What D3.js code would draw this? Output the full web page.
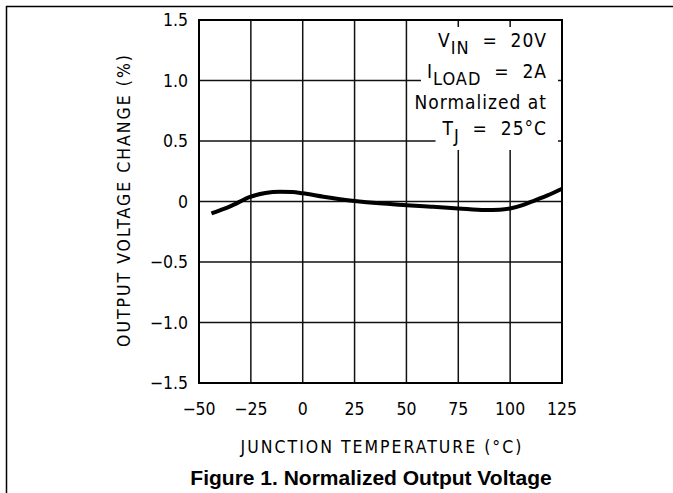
<!DOCTYPE html>
<html><head><meta charset="utf-8">
<script src="https://cdn.jsdelivr.net/npm/d3@7"></script>
<style>
body{margin:0;background:#fff;}
svg{display:block;}
.lbl{font-family:"Liberation Sans Narrow","DejaVu Sans Condensed","Liberation Sans",sans-serif;fill:#000;}
</style></head>
<body>
<script>
const temps = [-44, -35, -25, -18, -11, -5, 0, 10, 25, 37, 50, 62, 75, 88, 95, 100, 106, 112, 118, 125];
const vchange = [-0.098, -0.04, 0.04, 0.07, 0.08, 0.078, 0.068, 0.04, 0.005, -0.015, -0.03, -0.043, -0.057, -0.07, -0.068, -0.058, -0.03, 0.01, 0.05, 0.105];
const xTicks = [-50, -25, 0, 25, 50, 75, 100, 125];
const yTicks = [-1.5, -1.0, -0.5, 0, 0.5, 1.0, 1.5];
const yTickLabels = ["\u22121.5", "\u22121.0", "\u22120.5", "0", "0.5", "1.0", "1.5"];
const xTitle = "JUNCTION TEMPERATURE (\u00B0C)";
const yTitle = "OUTPUT VOLTAGE CHANGE (%)";
const figTitle = "Figure 1. Normalized Output Voltage";

const W = 673, H = 493;
const svg = d3.select("body").append("svg").attr("width", W).attr("height", H);
const L = 199, R = 562, T = 20, B = 383;
const x = d3.scaleLinear().domain([-50, 125]).range([L, R]);
const y = d3.scaleLinear().domain([-1.5, 1.5]).range([B, T]);

// outer frame lines
svg.append("line").attr("x1", 6).attr("x2", W).attr("y1", 6.5).attr("y2", 6.5).attr("stroke", "#000").attr("stroke-width", 1.5);
svg.append("line").attr("x1", 6.5).attr("x2", 6.5).attr("y1", 6).attr("y2", H).attr("stroke", "#000").attr("stroke-width", 1.5);

// grid
const g = svg.append("g");
g.selectAll(".vx").data(xTicks).join("line")
  .attr("x1", d => x(d)).attr("x2", d => x(d)).attr("y1", T).attr("y2", B)
  .attr("stroke", "#111").attr("stroke-width", 1.5);
g.selectAll(".hy").data(yTicks).join("line")
  .attr("x1", L).attr("x2", R).attr("y1", d => y(d)).attr("y2", d => y(d))
  .attr("stroke", "#111").attr("stroke-width", 1.5);
g.append("rect").attr("x", L).attr("y", T).attr("width", R - L).attr("height", B - T)
  .attr("fill", "none").attr("stroke", "#000").attr("stroke-width", 2);

// tick labels
svg.selectAll(".yl").data(yTicks).join("text").attr("class", "lbl")
  .attr("x", 188).attr("y", d => y(d)).attr("dy", "0.36em").attr("text-anchor", "end")
  .attr("font-size", 17.5).text((d, i) => yTickLabels[i]);
svg.selectAll(".xl").data(xTicks).join("text").attr("class", "lbl")
  .attr("x", d => x(d)).attr("y", 415).attr("text-anchor", "middle")
  .attr("font-size", 17.5).text(d => d < 0 ? "\u2212" + Math.abs(d) : String(d));

// axis titles
svg.append("text").attr("class", "lbl").attr("x", 382).attr("y", 453).attr("text-anchor", "middle")
  .attr("font-size", 17.5).attr("letter-spacing", 2).text(xTitle);
svg.append("text").attr("class", "lbl").attr("transform", "translate(130,200) rotate(-90)")
  .attr("text-anchor", "middle").attr("font-size", 17.5).attr("letter-spacing", 2).text(yTitle);

// figure title
svg.append("text").attr("x", 371).attr("y", 485).attr("text-anchor", "middle")
  .attr("font-family", "Liberation Sans, Arial, sans-serif").attr("font-weight", "bold")
  .attr("font-size", 21).attr("fill", "#000").text(figTitle);

// curve
const line = d3.line().x((d, i) => x(temps[i])).y(d => y(d)).curve(d3.curveMonotoneX);
svg.append("path").attr("d", line(vchange)).attr("fill", "none").attr("stroke", "#000")
  .attr("stroke-width", 4).attr("stroke-linejoin", "round");

// annotation with white knockout backgrounds
const ann = svg.append("g");
const lines = [
  {y: 47, parts: [["V", 0], ["IN", 1], ["  =  20V", 0]]},
  {y: 78, parts: [["I", 0], ["LOAD", 1], ["  =  2A", 0]]},
  {y: 109, parts: [["Normalized at", 0]]},
  {y: 135, parts: [["T", 0], ["J", 1], ["  =  25\u00B0C", 0]]}
];
lines.forEach(ln => {
  const t = ann.append("text").attr("class", "lbl").attr("x", 547).attr("y", ln.y)
    .attr("text-anchor", "end").attr("font-size", 19).attr("letter-spacing", 1)
    .attr("xml:space", "preserve").style("white-space", "pre");
  ln.parts.forEach(p => {
    if (p[1]) t.append("tspan").attr("dy", 7).attr("font-size", 18).text(p[0]);
    else {
      const ts = t.append("tspan").text(p[0]);
      if (t.selectAll("tspan").size() > 1) ts.attr("dy", -7);
    }
  });
  const bb = t.node().getBBox();
  ann.insert("rect", "text").attr("x", bb.x - 6).attr("y", bb.y - 2).attr("width", 558 - (bb.x - 6)).attr("height", bb.height + 6).attr("fill", "#fff");
});
</script>
</body></html>
